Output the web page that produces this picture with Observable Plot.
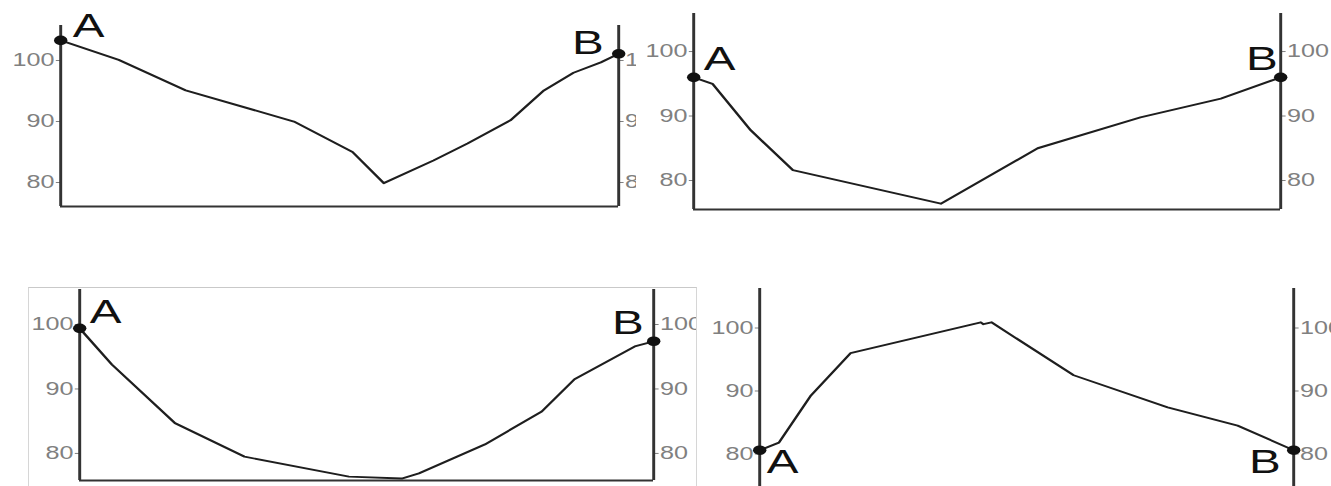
<!DOCTYPE html>
<html><head><meta charset="utf-8">
<script src="https://cdn.jsdelivr.net/npm/d3@7"></script>
<script src="https://cdn.jsdelivr.net/npm/@observablehq/plot@0.6"></script>
<style>
html,body{margin:0;padding:0;background:#fff;}
body{width:1331px;height:486px;position:relative;overflow:hidden;font-family:"Liberation Sans",Arial,sans-serif;}
.panel{position:absolute;overflow:hidden;}
.panel svg{display:block;max-width:none;}
</style></head><body>
<script>
// ---- data ----
const yTicks = [80, 90, 100];
const pointLabels = ["A", "B"];

const p1Dist = [0, 10.4, 22.4, 41.8, 52.3, 57.9, 66.8, 72.9, 80.6, 86.6, 91.9, 96.8, 100];
const p1Elev = [103.3, 100.1, 95.1, 90.0, 85.0, 79.9, 83.6, 86.4, 90.2, 95.1, 98.0, 99.7, 101.1];

const p2Dist = [0, 3.2, 9.7, 16.9, 42.1, 58.6, 76.1, 89.8, 100];
const p2Elev = [96.0, 95.0, 87.8, 81.6, 76.4, 85.0, 89.8, 92.7, 96.0];

const p3Dist = [0, 5.6, 16.6, 28.7, 46.9, 56.1, 59.1, 70.6, 80.5, 86.2, 96.7, 100];
const p3Elev = [99.4, 93.8, 84.7, 79.5, 76.4, 76.1, 76.9, 81.4, 86.5, 91.5, 96.6, 97.4];

const p4Dist = [0, 3.6, 9.6, 17.0, 41.4, 41.9, 43.4, 58.8, 76.4, 89.5, 100];
const p4Elev = [80.6, 81.8, 89.3, 96.0, 100.9, 100.6, 100.9, 92.5, 87.4, 84.5, 80.6];

// ---- layout (page pixels) ----
const sx = 1.4; // horizontal stretch of the original figure
const panels = [
  {dist: p1Dist, elev: p1Elev, left: 0, top: 0, width: 636, height: 215,
   axisLeft: 60, axisRight: 618, axisTop: 25, axisBottom: 206, yDomain: [76.07, 105.74], baseline: true,
   aDx: 12, aDy: -3, bDx: -15, bDy: 0},
  {dist: p2Dist, elev: p2Elev, left: 640, top: 0, width: 691, height: 215,
   axisLeft: 693, axisRight: 1280, axisTop: 13, axisBottom: 209, yDomain: [75.5, 105.9], baseline: true,
   aDx: 10, aDy: -7, bDx: -3, bDy: -7},
  {dist: p3Dist, elev: p3Elev, left: 28, top: 287, width: 669, height: 199,
   axisLeft: 78, axisRight: 652, axisTop: 288, axisBottom: 479, yDomain: [75.8, 105.43], baseline: true,
   aDx: 10, aDy: -5, bDx: -10, bDy: -7, border: true},
  {dist: p4Dist, elev: p4Elev, left: 700, top: 280, width: 631, height: 206,
   axisLeft: 759, axisRight: 1293, axisTop: 288, axisBottom: 486, yDomain: [74.84, 106.27], baseline: false,
   aDx: 7, aDy: 23, bDx: -13, bDy: 23}
];

function makePanel(cfg) {
  const W = cfg.width, H = cfg.height;
  const data = cfg.dist.map((d, i) => ({d, e: cfg.elev[i]}));
  const first = {...data[0], label: pointLabels[0]};
  const last = {...data[data.length - 1], label: pointLabels[1]};
  const axisOpts = {ticks: yTicks, tickSize: 3, tickPadding: 1.5, label: null, color: "#808080", fontSize: 18};
  const svg = Plot.plot({
    width: W / sx,
    height: H,
    marginLeft: (cfg.axisLeft - cfg.left) / sx,
    marginRight: (cfg.left + W - cfg.axisRight) / sx,
    marginTop: cfg.axisTop - cfg.top,
    marginBottom: cfg.top + H - cfg.axisBottom,
    style: {fontFamily: "Liberation Sans, Arial, sans-serif", fontSize: "18px", background: "transparent"},
    x: {domain: [0, 100], axis: null},
    y: {domain: cfg.yDomain},
    marks: [
      Plot.axisY({anchor: "left", ...axisOpts}),
      Plot.axisY({anchor: "right", ...axisOpts}),
      Plot.ruleX([0, 100], {stroke: "#333", strokeWidth: 2.1}),
      cfg.baseline ? Plot.ruleY([cfg.yDomain[0]], {stroke: "#333", strokeWidth: 2.2}) : null,
      Plot.line(data, {x: "d", y: "e", stroke: "#1e1e1e", strokeWidth: 1.9}),
      Plot.dot([first, last], {x: "d", y: "e", r: 4.8, fill: "#111", stroke: null}),
      Plot.text([first], {x: "d", y: "e", text: "label", textAnchor: "start", lineAnchor: "bottom",
        dx: cfg.aDx / sx, dy: cfg.aDy, fontSize: 34, fill: "#111"}),
      Plot.text([last], {x: "d", y: "e", text: "label", textAnchor: "end", lineAnchor: "bottom",
        dx: cfg.bDx / sx, dy: cfg.bDy, fontSize: 34, fill: "#111"})
    ]
  });
  svg.setAttribute("preserveAspectRatio", "none");
  svg.setAttribute("width", W);
  svg.setAttribute("height", H);
  svg.style.width = W + "px";
  svg.style.height = H + "px";
  const div = document.createElement("div");
  div.className = "panel";
  div.style.left = cfg.left + "px";
  div.style.top = cfg.top + "px";
  div.style.width = W + "px";
  div.style.height = H + "px";
  if (cfg.border) {
    div.style.boxSizing = "border-box";
    div.style.borderTop = "1px solid #c9c9c9";
    div.style.borderLeft = "1px solid #d6d6d6";
    div.style.borderRight = "1px solid #d6d6d6";
  }
  div.appendChild(svg);
  document.body.appendChild(div);
}
panels.forEach(makePanel);
</script>
</body></html>
